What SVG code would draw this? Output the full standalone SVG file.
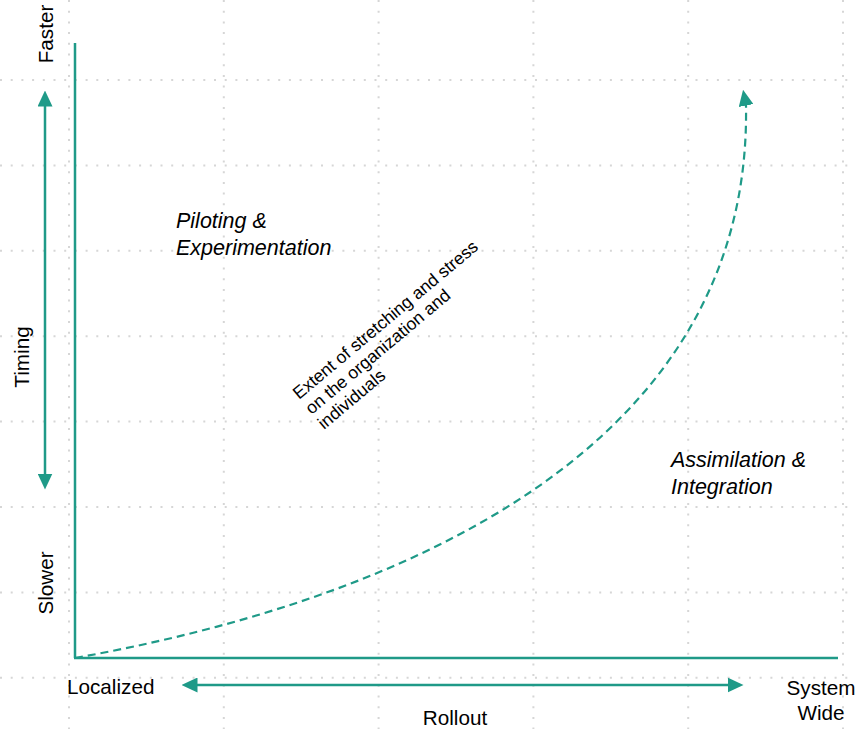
<svg xmlns="http://www.w3.org/2000/svg" width="855" height="729" viewBox="0 0 855 729">
<style>
.grid line{stroke:#d6d6d6;stroke-width:2;stroke-dasharray:2 8.7}
.axis{stroke:#1f9a88;stroke-width:2.5;fill:none}
.arr{stroke:#1f9a88;stroke-width:2.5;fill:none;marker-start:url(#ah);marker-end:url(#ah)}
.curve{stroke:#1f9a88;stroke-width:2.2;fill:none;stroke-dasharray:8 5;marker-end:url(#ahc)}
text{font-family:"Liberation Sans",Arial,sans-serif;fill:#000}
.lbl{font-size:20.7px}
.it{font-size:21.5px;font-style:italic}
.rot{font-size:17.5px}
</style>
<defs>
<marker id="ah" viewBox="0 0 16 15" refX="0.5" refY="7.5" markerWidth="16" markerHeight="15" markerUnits="userSpaceOnUse" orient="auto-start-reverse">
<path d="M0,0 L16,7.5 L0,15 Z" fill="#1f9a88"/>
</marker>
<marker id="ahc" viewBox="0 0 16 15" refX="0.5" refY="7.5" markerWidth="16" markerHeight="15" markerUnits="userSpaceOnUse" orient="-101">
<path d="M0,0 L16,7.5 L0,15 Z" fill="#1f9a88"/>
</marker>
</defs>
<rect width="855" height="729" fill="#fff"/>
<g class="grid">
<line x1="0" y1="80" x2="855" y2="80"/>
<line x1="0" y1="165.4" x2="855" y2="165.4"/>
<line x1="0" y1="250.8" x2="855" y2="250.8"/>
<line x1="0" y1="336.2" x2="855" y2="336.2"/>
<line x1="0" y1="421.6" x2="855" y2="421.6"/>
<line x1="0" y1="507" x2="855" y2="507"/>
<line x1="0" y1="592.4" x2="855" y2="592.4"/>
<line x1="0" y1="677.8" x2="855" y2="677.8"/>
<line x1="69" y1="0" x2="69" y2="729"/>
<line x1="223.8" y1="0" x2="223.8" y2="729"/>
<line x1="378.6" y1="0" x2="378.6" y2="729"/>
<line x1="533.4" y1="0" x2="533.4" y2="729"/>
<line x1="688.2" y1="0" x2="688.2" y2="729"/>
<line x1="843" y1="0" x2="843" y2="729"/>
</g>
<g id="connectors">
<path id="axis-y" class="axis" d="M75,43 V658"/>
<path id="axis-x" class="axis" d="M74,658 H838"/>
<path id="timing-arrow" class="arr" d="M45,106 V474"/>
<path id="rollout-arrow" class="arr" d="M197,685 H728"/>
<path id="stress-curve" class="curve" d="M75,658 C400,600 752,450 746,105"/>
</g>
<g id="label-faster"><text class="lbl" text-anchor="middle" transform="translate(53,34) rotate(-90)">Faster</text></g>
<g id="label-timing"><text class="lbl" text-anchor="middle" transform="translate(29,357) rotate(-90)">Timing</text></g>
<g id="label-slower"><text class="lbl" text-anchor="middle" transform="translate(53,583) rotate(-90)">Slower</text></g>
<g id="label-localized"><text class="lbl" x="67" y="694">Localized</text></g>
<g id="label-rollout"><text class="lbl" x="455" y="725" text-anchor="middle">Rollout</text></g>
<g id="label-systemwide"><text class="lbl" text-anchor="middle"><tspan x="821" y="695">System</tspan><tspan x="821" y="720">Wide</tspan></text></g>
<g id="label-piloting"><text class="it"><tspan x="176" y="228">Piloting &amp;</tspan><tspan x="176" y="255">Experimentation</tspan></text></g>
<g id="label-assimilation"><text class="it"><tspan x="671" y="467">Assimilation &amp;</tspan><tspan x="671" y="494">Integration</tspan></text></g>
<g id="label-stress"><text class="rot" transform="translate(299,400) rotate(-40)"><tspan x="0" y="0">Extent of stretching and stress</tspan><tspan x="0" y="19.5">on the organization and</tspan><tspan x="0" y="39">individuals</tspan></text></g>
</svg>
